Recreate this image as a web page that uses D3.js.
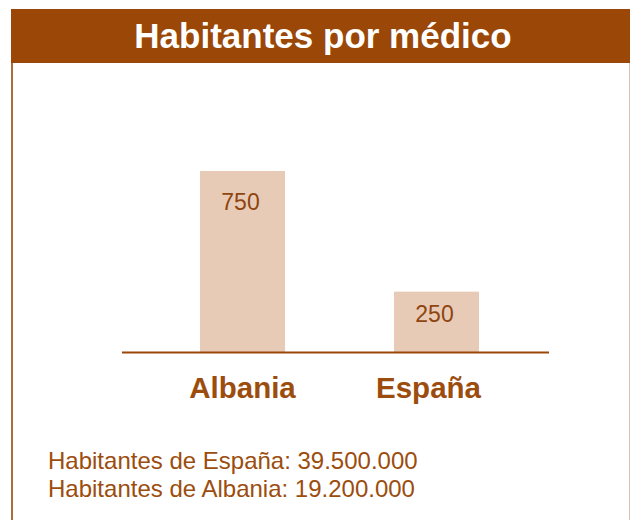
<!DOCTYPE html>
<html>
<head>
<meta charset="utf-8">
<script src="https://cdn.jsdelivr.net/npm/d3@7"></script>
<style>
    body { margin: 0; background: #fff; }
    svg { display: block; font-family: 'Liberation Sans', Arial, Helvetica, sans-serif; }
</style>
</head>
<body>
<div id="chart"></div>
<script>

var title = 'Habitantes por médico';
var countries = [ 'Albania', 'España' ];
var inhabitantsPerDoctor = [ 750, 250 ];
var notes = [ 'Habitantes de España: 39.500.000', 'Habitantes de Albania: 19.200.000' ];

var brown = '#9a4708',
    textBrown = '#9c4d0e',
    barColor = '#e8cbb6';

var width = 630,
    height = 520,
    baseline = 352;

var svg = d3.select('#chart').append('svg')
    .attr('width', width)
    .attr('height', height);

// frame
svg.append('line')
    .attr('x1', 629.5).attr('x2', 629.5)
    .attr('y1', 9).attr('y2', height)
    .style('stroke', '#d8c2b2')
    .style('stroke-width', 1);

svg.append('line')
    .attr('x1', 12).attr('x2', 12)
    .attr('y1', 9).attr('y2', height)
    .style('stroke', brown)
    .style('stroke-width', 1.6);

// title bar
svg.append('rect')
    .attr('x', 11)
    .attr('y', 9)
    .attr('width', width - 11)
    .attr('height', 54)
    .style('fill', brown);

svg.append('text')
    .attr('x', 323)
    .attr('y', 48)
    .attr('text-anchor', 'middle')
    .style('font-size', '35px')
    .style('font-weight', 'bold')
    .style('fill', '#fff')
    .text( title );

// scales
var x = d3.scaleBand()
    .domain( countries )
    .range([ 122, 557 ])
    .paddingInner( 0.562 )
    .paddingOuter( 0.402 );

var y = d3.scaleLinear()
    .domain([ 0, 750 ])
    .range([ baseline, 171 ]);

var data = countries.map( function ( c, i ) {
    return { country: c, value: inhabitantsPerDoctor[ i ] };
});

// bars
svg.selectAll('.bar')
    .data( data )
    .enter().append('rect')
    .attr('class', 'bar')
    .attr('x', function ( d ) { return x( d.country ) })
    .attr('y', function ( d ) { return y( d.value ) })
    .attr('width', x.bandwidth())
    .attr('height', function ( d ) { return baseline - y( d.value ) })
    .style('fill', barColor);

// value labels
svg.selectAll('.value')
    .data( data )
    .enter().append('text')
    .attr('class', 'value')
    .attr('x', function ( d ) { return x( d.country ) + x.bandwidth() / 2 - 2 })
    .attr('y', function ( d ) {
        var h = baseline - y( d.value );
        return y( d.value ) + Math.min( 39, h / 2 );
    })
    .attr('text-anchor', 'middle')
    .style('font-size', '23px')
    .style('fill', '#8e4510')
    .text( function ( d ) { return d.value });

// axis line
svg.append('line')
    .attr('x1', 122).attr('x2', 549)
    .attr('y1', baseline + 0.5).attr('y2', baseline + 0.5)
    .style('stroke', brown)
    .style('stroke-width', 2.2);

// category labels
svg.selectAll('.category')
    .data( data )
    .enter().append('text')
    .attr('class', 'category')
    .attr('x', function ( d, i ) { return x( d.country ) + x.bandwidth() / 2 - i * 8 })
    .attr('y', 398)
    .attr('text-anchor', 'middle')
    .style('font-size', '29.5px')
    .style('font-weight', 'bold')
    .style('fill', textBrown)
    .text( function ( d ) { return d.country });

// notes
svg.selectAll('.note')
    .data( notes )
    .enter().append('text')
    .attr('class', 'note')
    .attr('x', 48)
    .attr('y', function ( d, i ) { return 469 + i * 28 })
    .style('font-size', '24px')
    .style('fill', textBrown)
    .text( function ( d ) { return d });

</script>
</body>
</html>
